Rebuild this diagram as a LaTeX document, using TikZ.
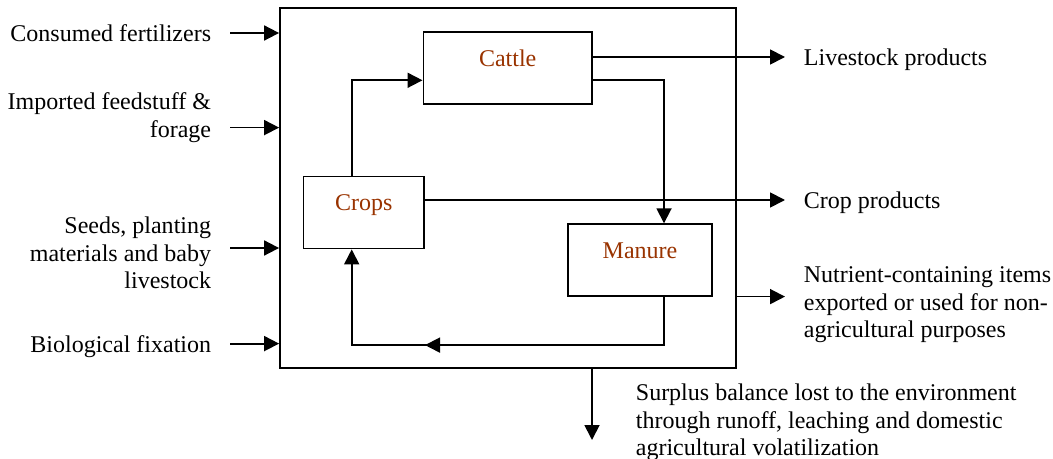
\documentclass[tikz,border=0pt]{standalone}
\usepackage{fontspec}
\setmainfont{Liberation Serif}
\usetikzlibrary{calc}
\usetikzlibrary{arrows.meta}
\usetikzlibrary{decorations.markings}
\definecolor{compbrown}{HTML}{993300}
\tikzset{
	every path/.style={line width=0.9pt},
	every node/.style={font=\fontsize{12}{13.8}\selectfont},
	comp/.style={
		draw,
		rectangle,
		inner sep=0pt,
		text height=17pt,
		text depth=19pt,
		text=compbrown,
	},
	flow/.style={
		-{Triangle[length=7.5pt,width=7.5pt]}
	},
	backflow/.style={
		-{Triangle[length=7.5pt,width=7.5pt]},
		postaction={decorate},
		decoration={markings,
			mark=at position 143.5pt with {\arrow{Triangle[length=7.5pt,width=7.5pt]}}},
	},
	inlbl/.style={
		anchor=east,
		align=right,
		inner xsep=9pt,
		inner ysep=0pt,
	},
	outlbl/.style={
		anchor=west,
		align=left,
		inner xsep=9pt,
		inner ysep=0pt,
	},
}

\begin{document}
\begin{tikzpicture}[x=0.5pt,y=-0.5pt]
		\useasboundingbox (0,0) rectangle (1053,459);

		% the farm
		\node[draw,rectangle,inner sep=0pt,minimum width=228pt,minimum height=180pt] (farm) at (508,188) {};

		\node[comp,minimum width=84.3pt] (cattle) at (507.7,68.3) {Cattle};
		\node[comp,minimum width=60.3pt] (crops) at (363.7,212.5) {Crops};
		\node[comp,minimum width=72.3pt] (manure) at (640,260.2) {Manure};

		\draw[flow] ([xshift=-6pt]crops.north) |- ([yshift=-6pt]cattle.west);
		\draw[flow] ([yshift=-6pt]cattle.east) -| ([xshift=12pt]manure.north);
		\draw[backflow] ([xshift=12pt]manure.south) -- ++(0,48) -| ([xshift=-6pt]crops.south);

		% inputs
		\node[inlbl] (fert) at (230,33) {Consumed fertilizers};
		\node[inlbl] (feed) at (230,117.4) {Imported feedstuff \&\\forage};
		\node[inlbl] (seeds) at (230,253) {Seeds, planting\\materials and baby\\livestock};
		\node[inlbl] (fix) at (230,347) {Biological fixation};

		\draw[flow] (fert.east) -- (fert.east -| farm.west);
		\draw[flow] ([yshift=-5.1pt]feed.east) -- ([yshift=-5.1pt]feed.east -| farm.west);
		\draw[flow] ([yshift=2.5pt]seeds.east) -- ([yshift=2.5pt]seeds.east -| farm.west);
		\draw[flow] ([yshift=1.7pt]fix.east) -- ([yshift=1.7pt]fix.east -| farm.west);

		% outputs
		\node[outlbl] (lvsout) at (785,60) {Livestock products};
		\node[outlbl] (crpout) at (785,203) {Crop products};
		\node[outlbl] (export) at (785,305) {Nutrient-containing items\\exported or used for non-\\agricultural purposes};
		\node[anchor=west,align=left,inner sep=0pt] (surplus) at (635,422.5) {Surplus balance lost to the environment\\through runoff, leaching and domestic\\agricultural volatilization};
		\coordinate (sink) at (592,440);

		\draw[flow] ([yshift=1.5pt]lvsout.west -| cattle.east) -- ([yshift=1.5pt]lvsout.west);
		\draw[flow] ([yshift=1.5pt]crpout.west -| crops.east) -- ([yshift=1.5pt]crpout.west);
		\draw[flow] ([yshift=4.2pt]export.west -| farm.east) -- ([yshift=4.2pt]export.west);
		\draw[flow] (farm.south -| sink) -- (sink);

	\end{tikzpicture}
\end{document}
